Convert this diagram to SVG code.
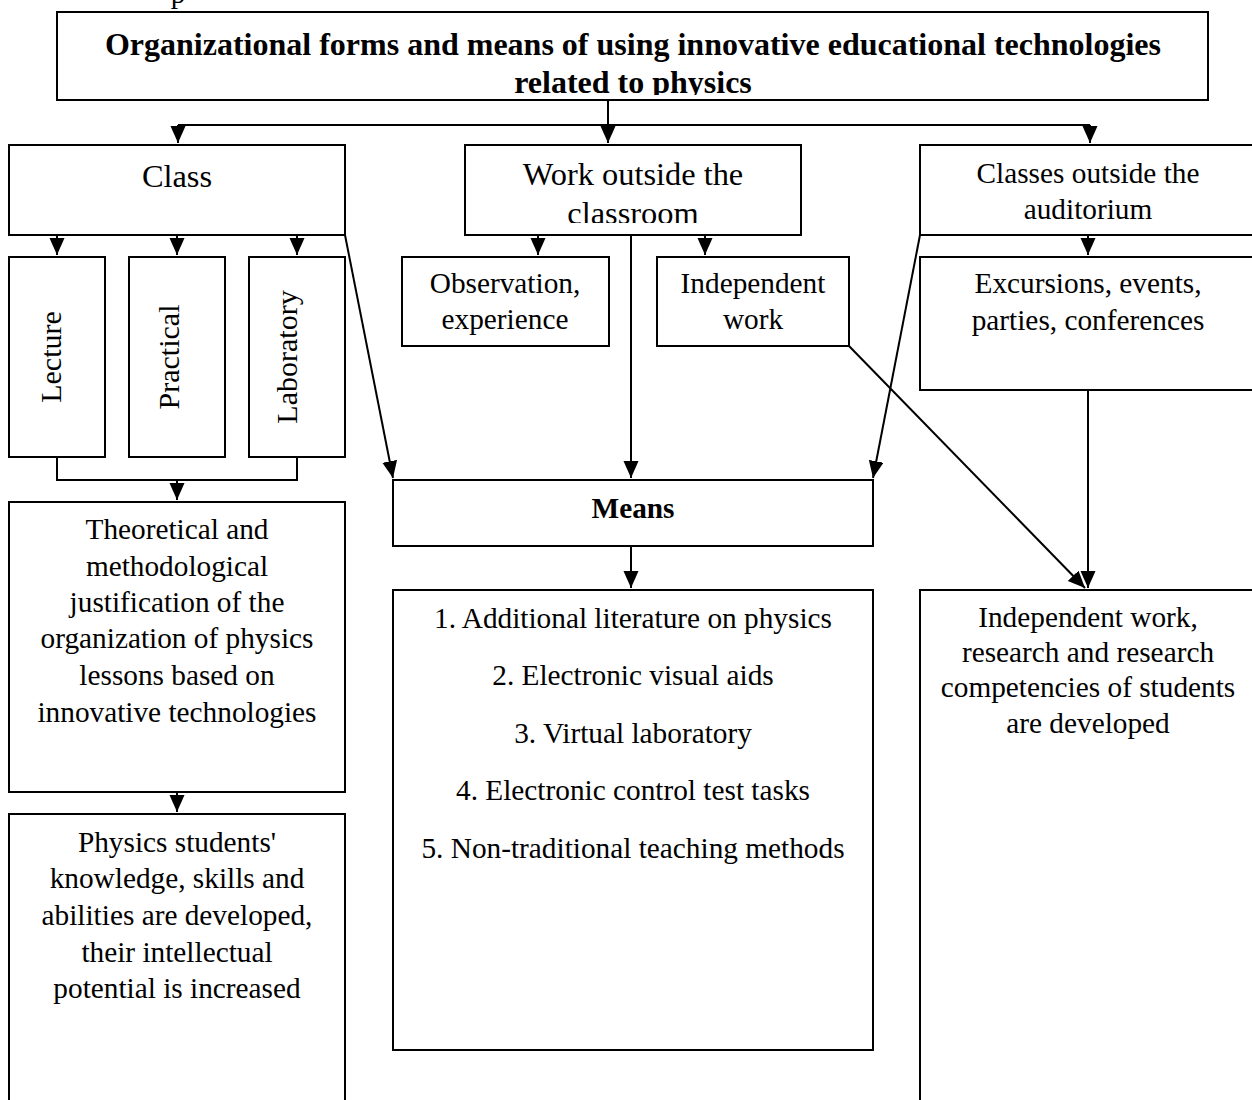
<svg xmlns="http://www.w3.org/2000/svg" width="1252" height="1100" viewBox="0 0 1252 1100">
<style>
.box{fill:#fff;stroke:#000;stroke-width:2}
.t{font-family:"Liberation Serif","Times New Roman",serif;font-size:29.3px;fill:#000;text-anchor:middle}
.b{font-weight:bold}
.big{font-size:32.4px}
.c{fill:none;stroke:#000;stroke-width:2}
</style>
<defs>
<marker id="ah" markerUnits="userSpaceOnUse" markerWidth="18" markerHeight="16" refX="17" refY="7.5" orient="auto">
<path d="M0,0 L17,7.5 L0,15 z" fill="#000"/>
</marker>
<clipPath id="clipTitle"><rect x="57" y="12" width="1151" height="83"/></clipPath>
<clipPath id="clipWork"><rect x="465" y="145" width="336" height="78"/></clipPath>
</defs>
<rect width="1252" height="1100" fill="#fff"/>
<text class="t" x="178" y="3">p</text>

<g id="connectors">
<path class="c" d="M608,100 V143" marker-end="url(#ah)"/>
<path class="c" d="M178,125 H1090"/>
<path class="c" d="M178,125 V143" marker-end="url(#ah)"/>
<path class="c" d="M1090,125 V143" marker-end="url(#ah)"/>
<path class="c" d="M57,235 V255" marker-end="url(#ah)"/>
<path class="c" d="M177,235 V255" marker-end="url(#ah)"/>
<path class="c" d="M297,235 V255" marker-end="url(#ah)"/>
<path class="c" d="M57,457 V480 H297 V457"/>
<path class="c" d="M177,480 V500" marker-end="url(#ah)"/>
<path class="c" d="M177,792 V812" marker-end="url(#ah)"/>
<path class="c" d="M345,235 L393,478" marker-end="url(#ah)"/>
<path class="c" d="M538,235 V255" marker-end="url(#ah)"/>
<path class="c" d="M705,235 V255" marker-end="url(#ah)"/>
<path class="c" d="M631,235 V478" marker-end="url(#ah)"/>
<path class="c" d="M920,235 L873,478" marker-end="url(#ah)"/>
<path class="c" d="M1088,235 V255" marker-end="url(#ah)"/>
<path class="c" d="M631,546 V588" marker-end="url(#ah)"/>
<path class="c" d="M849,346 L1085,588" marker-end="url(#ah)"/>
<path class="c" d="M1088,390 V588" marker-end="url(#ah)"/>
</g>

<g id="title">
<rect class="box" x="57" y="12" width="1151" height="88"/>
<g clip-path="url(#clipTitle)">
<text class="t b" x="633" y="55" style="font-size:32px">Organizational forms and means of using innovative educational technologies</text>
<text class="t b" x="633" y="93" style="font-size:32px">related to physics</text>
</g>
</g>

<g id="class">
<rect class="box" x="9" y="145" width="336" height="90"/>
<text class="t big" x="177" y="187">Class</text>
</g>

<g id="work">
<rect class="box" x="465" y="145" width="336" height="90"/>
<g clip-path="url(#clipWork)">
<text class="t big" x="633" y="185">Work outside the</text>
<text class="t big" x="633" y="224">classroom</text>
</g>
</g>

<g id="classes-outside">
<rect class="box" x="920" y="145" width="340" height="90"/>
<text class="t" x="1088" y="183">Classes outside the</text>
<text class="t" x="1088" y="219">auditorium</text>
</g>

<g id="lecture">
<rect class="box" x="9" y="257" width="96" height="200"/>
<text class="t" style="font-size:30px" transform="translate(61,357) rotate(-90)">Lecture</text>
</g>
<g id="practical">
<rect class="box" x="129" y="257" width="96" height="200"/>
<text class="t" style="font-size:30px" transform="translate(179,357) rotate(-90)">Practical</text>
</g>
<g id="laboratory">
<rect class="box" x="249" y="257" width="96" height="200"/>
<text class="t" style="font-size:30px" transform="translate(297,357) rotate(-90)">Laboratory</text>
</g>

<g id="observation">
<rect class="box" x="402" y="257" width="207" height="89"/>
<text class="t" x="505" y="293">Observation,</text>
<text class="t" x="505" y="329">experience</text>
</g>
<g id="independent">
<rect class="box" x="657" y="257" width="192" height="89"/>
<text class="t" x="753" y="293">Independent</text>
<text class="t" x="753" y="329">work</text>
</g>
<g id="excursions">
<rect class="box" x="920" y="257" width="340" height="133"/>
<text class="t" x="1088" y="293">Excursions, events,</text>
<text class="t" x="1088" y="330">parties, conferences</text>
</g>

<g id="means">
<rect class="box" x="393" y="480" width="480" height="66"/>
<text class="t b" x="633" y="518">Means</text>
</g>

<g id="theoretical">
<rect class="box" x="9" y="502" width="336" height="290"/>
<text class="t" x="177" y="539">Theoretical and</text>
<text class="t" x="177" y="576">methodological</text>
<text class="t" x="177" y="612">justification of the</text>
<text class="t" x="177" y="648">organization of physics</text>
<text class="t" x="177" y="685">lessons based on</text>
<text class="t" x="177" y="722">innovative technologies</text>
</g>

<g id="physics-students">
<rect class="box" x="9" y="814" width="336" height="300"/>
<text class="t" x="177" y="852">Physics students'</text>
<text class="t" x="177" y="888">knowledge, skills and</text>
<text class="t" x="177" y="925">abilities are developed,</text>
<text class="t" x="177" y="962">their intellectual</text>
<text class="t" x="177" y="998">potential is increased</text>
</g>

<g id="means-list">
<rect class="box" x="393" y="590" width="480" height="460"/>
<text class="t" x="633" y="628">1. Additional literature on physics</text>
<text class="t" x="633" y="685">2. Electronic visual aids</text>
<text class="t" x="633" y="743">3. Virtual laboratory</text>
<text class="t" x="633" y="800">4. Electronic control test tasks</text>
<text class="t" x="633" y="858">5. Non-traditional teaching methods</text>
</g>

<g id="result-right">
<rect class="box" x="920" y="590" width="340" height="520"/>
<text class="t" x="1088" y="627">Independent work,</text>
<text class="t" x="1088" y="662">research and research</text>
<text class="t" x="1088" y="697">competencies of students</text>
<text class="t" x="1088" y="733">are developed</text>
</g>
</svg>
